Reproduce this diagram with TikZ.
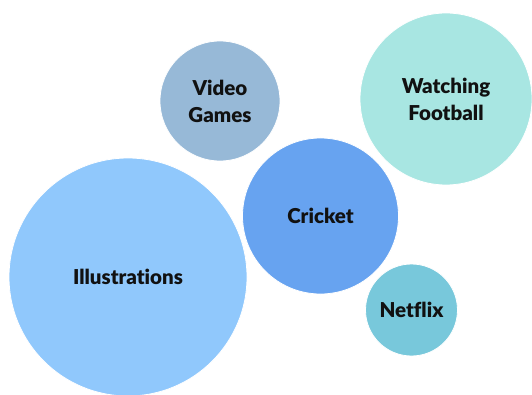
\documentclass[tikz,border=0pt]{standalone}
\usepackage{fontspec}
\setmainfont{Lato}[BoldFont={Lato Black}, Ligatures={NoCommon}]
\definecolor{cIll}{HTML}{90C8FC}
\definecolor{cVid}{HTML}{97B9D7}
\definecolor{cFoot}{HTML}{A8E6E2}
\definecolor{cCri}{HTML}{67A3F0}
\definecolor{cNet}{HTML}{78C8DB}
\definecolor{cTxt}{HTML}{111111}
\tikzset{
  bubble/.style={circle, draw=white, line width=0.8pt, inner sep=0pt, align=center,
    text=cTxt, font=\bfseries\fontsize{20.5}{27}\selectfont},
}
\begin{document}
\begin{tikzpicture}[x=1pt,y=1pt]
\path[use as bounding box] (0,0) rectangle (532,394);
\begin{scope}
\clip (0,0) rectangle (532,394);
\node[bubble, fill=cIll, minimum size=238pt] (ill) at (128,117) {Illustrations};
\node[bubble, fill=cVid, minimum size=120pt] (vid) at (220,293) {Video\\Games};
\node[bubble, fill=cFoot, minimum size=172pt] (foot) at (446,295) {Watching\\Football};
\node[bubble, fill=cCri, minimum size=156pt] (cri) at (320.5,178) {Cricket};
\node[bubble, fill=cNet, minimum size=92pt] (net) at (411.5,84) {Netflix};
\end{scope}
\end{tikzpicture}
\end{document}
